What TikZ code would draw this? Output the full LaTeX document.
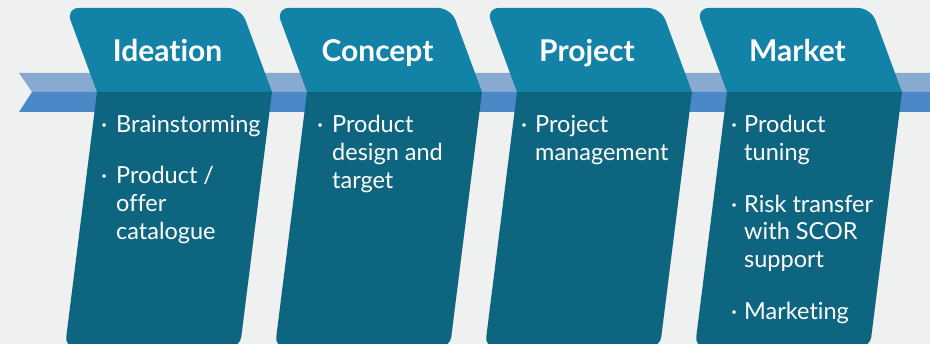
\documentclass[tikz,border=0pt]{standalone}
\usepackage{fontspec}
\setmainfont{Lato}[Ligatures=NoCommon]
\definecolor{bgc}{HTML}{EFF0F0}
\definecolor{hdrc}{HTML}{1282A6}
\definecolor{bodyc}{HTML}{0D6580}
\definecolor{bandlight}{HTML}{89AAD0}
\definecolor{banddark}{HTML}{4B88C8}
\begin{document}
\begin{tikzpicture}[x=1pt,y=-1pt,
  hdrtext/.style={text=white,font=\fontsize{30}{30}\selectfont\bfseries,inner sep=0,anchor=base},
  bodytext/.style={text=white,font=\fontsize{23.5}{23.5}\selectfont,inner sep=0,anchor=base west}]
\useasboundingbox (0,0) rectangle (930,344);
\clip (0,0) rectangle (930,344);
\fill[bgc] (0,0) rectangle (930,344);
% band
\fill[bandlight] (19,73) -- (930,73) -- (930,92) -- (32,92) -- cycle;
\fill[banddark] (32,92) -- (930,92) -- (930,112) -- (19,112) -- cycle;
% cards
\foreach \L in {97,307,517,727}{
  \fill[hdrc] (\L,92) [rounded corners=13] -- (\L-31,8) -- (\L+144,8) [sharp corners] -- (\L+175,92) -- cycle;
  \fill[bodyc] (\L,92) -- (\L+175,92) [rounded corners=10] -- (\L+143,347) -- (\L-32,347) [sharp corners] -- cycle;
}
% headers
\node[hdrtext] (h1) at (167.5,62) {Ideation};
\node[hdrtext] (h2) at (377.5,62) {Concept};
\node[hdrtext] (h3) at (587,62) {Project};
\node[hdrtext] (h4) at (797.5,62) {Market};
% Ideation
\node[bodytext] (i1b) at (101,133) {·};
\node[bodytext] (i1) at (116,133) {Brainstorming};
\node[bodytext] (i2b) at (101,184) {·};
\node[bodytext] (i2a) at (116,184) {Product /};
\node[bodytext] (i2c) at (116,212) {offer};
\node[bodytext] (i2d) at (116,240) {catalogue};
% Concept
\node[bodytext] (c1b) at (317,133) {·};
\node[bodytext] (c1a) at (332,133) {Product};
\node[bodytext] (c1c) at (332,161) {design and};
\node[bodytext] (c1d) at (332,189) {target};
% Project
\node[bodytext] (p1b) at (521,133) {·};
\node[bodytext] (p1a) at (535,133) {Project};
\node[bodytext] (p1c) at (535,161) {management};
% Market
\node[bodytext] (m1b) at (731,133) {·};
\node[bodytext] (m1a) at (744,133) {Product};
\node[bodytext] (m1c) at (744,161) {tuning};
\node[bodytext] (m2b) at (731,213) {·};
\node[bodytext] (m2a) at (744,213) {Risk transfer};
\node[bodytext] (m2c) at (744,240) {with SCOR};
\node[bodytext] (m2d) at (744,268) {support};
\node[bodytext] (m3b) at (731,320) {·};
\node[bodytext] (m3a) at (744,320) {Marketing};
\end{tikzpicture}
\end{document}
